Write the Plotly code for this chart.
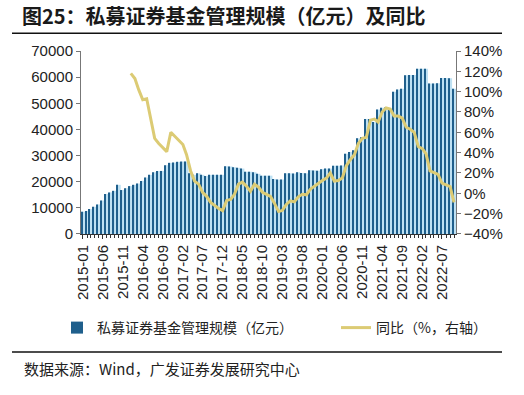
import plotly.graph_objects as go
import pandas as pd

# Monthly categories 2015-01 .. 2022-10
months = pd.date_range("2015-01-01", periods=94, freq="MS")

# 私募证券基金管理规模（亿元）
scale = [
    8500, 8800, 9500, 10400, 11300, 12800, 15300, 15900, 16500, 18800, 16800, 17500,
    18300, 18800, 19300, 20300, 21600, 22600, 23600, 24100, 24100, 26300, 27200, 27300,
    27600, 27700, 27700, 23200, 22600, 23200, 22600, 22200, 22600, 22600, 22600, 22600,
    25900, 25800, 25500, 25300, 25000, 23800, 23800, 23600, 23000, 22300, 22300, 22300,
    21000, 20800, 20800, 23200, 23200, 23100, 23600, 23300, 23200, 24400, 24300, 24200,
    24800, 25000, 25000, 26100, 26100, 26200, 30700, 31400, 32000, 36600, 37000, 44000,
    44000, 42800, 47600, 48300, 48400, 48000, 54400, 55300, 55600, 60700, 60800, 60800,
    63200, 63200, 63200, 57600, 57600, 57700, 59700, 59700, 59600, 55600,
]

# 同比（%）, starts 2016-01
yoy = [None] * 12 + [
    118, 113, 102, 92, 93, 74, 54, 49, 45, 41, 60, 56,
    52, 48, 38, 22, 12, 9, 1, -3, -9, -12, -15, -17,
    -7, -6, -1, 9, 11, 7, 2, 9, 6, 1, -1, -3,
    -10, -18, -17, -11, -7.5, -8.5, -3.5, -1, -1.5, 4, 7, 10,
    12.5, 15, 20, 12, 12.5, 15, 27, 33, 38, 49, 54, 55,
    72, 73, 70, 80, 84, 83, 76, 76, 74, 65, 63, 60,
    46, 44, 39, 22, 20, 18.5, 10, 8.5, 6.5, -9,
]

DAY = 86400000
TXT = "Liberation Sans, Arial, Noto Sans CJK SC"
CJK = "Noto Sans CJK SC"

fig = go.Figure()
fig.add_trace(go.Bar(
    x=months, y=scale, width=30.4 * DAY,
    marker=dict(color="#BEE1F3", line=dict(width=0)),
    showlegend=False, hoverinfo="skip",
))
fig.add_trace(go.Bar(
    x=months, y=scale, width=9 * DAY, offset=-15 * DAY,
    marker=dict(color="#1F5F8C", line=dict(width=0)),
    name="私募证券基金管理规模（亿元）", legend="legend",
))
fig.add_trace(go.Scatter(
    x=months, y=yoy, mode="lines", yaxis="y2",
    line=dict(color="#DCCB74", width=3),
    name="同比（%，右轴）", legend="legend2",
))

W, H = 524, 395
L, R, T, B = 81, 68, 51, 158
pw, ph = W - L - R, H - T - B

def px(x):
    return (x - L) / pw

def py(y):
    return (H - B - y) / ph

leg_common = dict(
    orientation="h", xanchor="left", yanchor="middle",
    xref="container", yref="container", y=1 - 328 / H,
    font=dict(family=CJK, size=14, color="#222"),
    bgcolor="rgba(0,0,0,0)",
)

fig.update_layout(
    width=W, height=H,
    margin=dict(l=L, r=R, t=T, b=B),
    paper_bgcolor="white", plot_bgcolor="white",
    barmode="overlay",
    font=dict(family=TXT, size=14, color="#222"),
    title=dict(
        text="<b>图25：私募证券基金管理规模（亿元）及同比</b>",
        font=dict(family=CJK, size=20, color="#1a1a1a"),
        x=22 / W, xanchor="left", y=1 - 17 / H, yanchor="middle",
        xref="container", yref="container",
    ),
    xaxis=dict(
        type="date",
        range=["2014-12-17", "2022-10-16"],
        tick0="2015-01-01", dtick="M5", tickformat="%Y-%m",
        tickangle=-90, ticks="outside", ticklen=4, tickcolor="#333",
        minor=dict(dtick="M1", ticks="outside", ticklen=3, tickcolor="#333"),
        showline=True, linecolor="#333", linewidth=1,
        showgrid=False, zeroline=False,
        tickfont=dict(family=TXT, size=15, color="#222"),
    ),
    yaxis=dict(
        range=[0, 70000], dtick=10000, tickformat="d",
        ticks="outside", ticklen=4, tickcolor="#777",
        showline=True, linecolor="#777", linewidth=1,
        showgrid=False, zeroline=False,
        tickfont=dict(family=TXT, size=15, color="#222"),
    ),
    yaxis2=dict(
        overlaying="y", side="right",
        range=[-40, 140], dtick=20, ticksuffix="%",
        ticks="outside", ticklen=4, tickcolor="#777",
        showline=True, linecolor="#777", linewidth=1,
        showgrid=False, zeroline=False,
        tickfont=dict(family=TXT, size=15, color="#222"),
    ),
    legend=dict(x=57 / W, **leg_common),
    legend2=dict(x=336 / W, **leg_common),
    shapes=[
        dict(type="line", xref="paper", yref="paper",
             x0=px(12), x1=px(502), y0=py(33), y1=py(33),
             line=dict(color="#111", width=1.5)),
        dict(type="line", xref="paper", yref="paper",
             x0=px(12), x1=px(502), y0=py(357), y1=py(357),
             line=dict(color="#111", width=1.5)),
    ],
    annotations=[
        dict(text="数据来源：Wind，广发证券发展研究中心",
             xref="paper", yref="paper", x=px(22), y=py(374),
             xanchor="left", yanchor="middle", showarrow=False,
             font=dict(family=CJK, size=15, color="#222")),
    ],
)

fig.write_html(
    "out.html",
    config={"displayModeBar": False},
    post_script="document.body.style.margin='0';document.body.style.overflow='hidden';",
)
